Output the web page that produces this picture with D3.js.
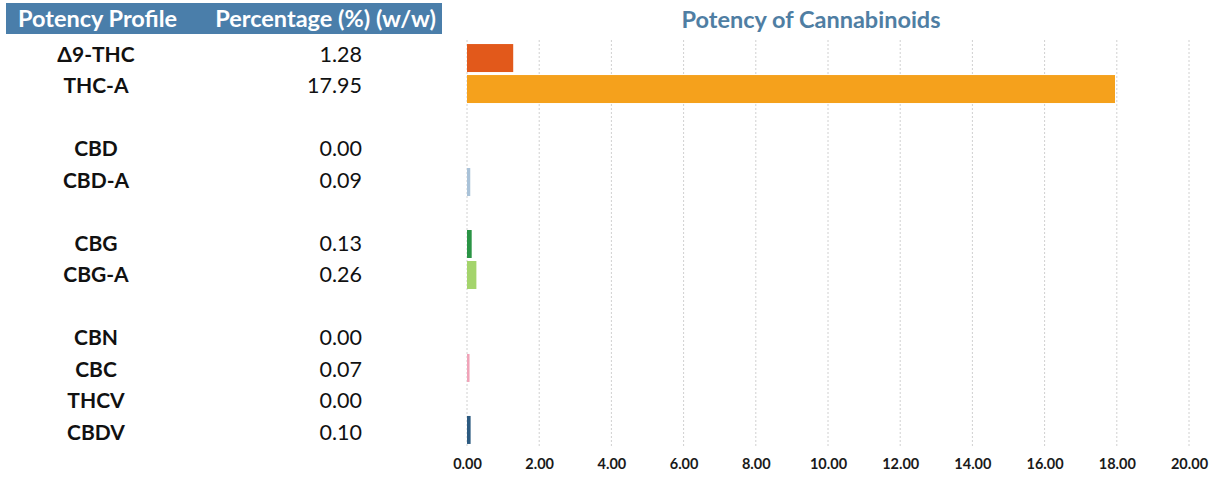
<!DOCTYPE html>
<html>
<head>
<meta charset="utf-8">
<script src="https://cdn.jsdelivr.net/npm/d3@7"></script>
<style>
  html, body { margin: 0; padding: 0; background: #fff; }
  svg { display: block; }
  text { font-family: Lato, "Open Sans", "Noto Sans", sans-serif; }
</style>
</head>
<body>
<svg id="chart" width="1212" height="478"></svg>
<script>
// ---- data ----
const categories = ["Δ9-THC", "THC-A", "CBD", "CBD-A", "CBG", "CBG-A", "CBN", "CBC", "THCV", "CBDV"];
const values     = [1.28, 17.95, 0.00, 0.09, 0.13, 0.26, 0.00, 0.07, 0.00, 0.10];
const colors     = ["#e2591b", "#f5a11c", "#9ab4cc", "#a9c2d8", "#2a9445", "#a4d46c", "#888888", "#f0a3b8", "#888888", "#2c5a80"];
const spacerAfter = ["THC-A", "CBD-A", "CBG-A"];   // blank rows between groups
const xTicks     = [0, 2, 4, 6, 8, 10, 12, 14, 16, 18, 20];
const headerLabels = ["Potency Profile", "Percentage (%) (w/w)"];
const chartTitle = "Potency of Cannabinoids";

// ---- row domain with spacer rows ----
const rowKeys = [];
categories.forEach((c, i) => {
  rowKeys.push(c);
  if (spacerAfter.includes(c)) rowKeys.push("__gap" + i);
});

const svg = d3.select("#chart");
const fmt = d3.format(".2f");

// ---- table (left) ----
const yTable = d3.scaleBand().domain(rowKeys).range([38.25, 447.75]).padding(0);

svg.append("rect")
  .attr("x", 6).attr("y", 3).attr("width", 436).attr("height", 31)
  .attr("fill", "#4a7eaa");

svg.append("text").attr("x", 18).attr("y", 27)
  .attr("fill", "#fff").attr("font-weight", 700).attr("font-size", 23.5)
  .text(headerLabels[0]);
svg.append("text").attr("x", 436).attr("y", 27)
  .attr("text-anchor", "end")
  .attr("fill", "#fff").attr("font-weight", 700).attr("font-size", 23.5)
  .text(headerLabels[1]);

const rows = svg.append("g").selectAll("g.row")
  .data(categories.map((c, i) => ({ name: c, value: values[i], color: colors[i] })))
  .join("g").attr("class", "row");

rows.append("text")
  .attr("x", 96)
  .attr("y", d => yTable(d.name) + yTable.bandwidth() / 2)
  .attr("dy", "0.36em")
  .attr("text-anchor", "middle")
  .attr("font-weight", 700).attr("font-size", 21).attr("fill", "#111")
  .text(d => d.name);

rows.append("text")
  .attr("x", 362)
  .attr("y", d => yTable(d.name) + yTable.bandwidth() / 2)
  .attr("dy", "0.36em")
  .attr("text-anchor", "end")
  .attr("font-size", 21.5).attr("fill", "#111")
  .text(d => fmt(d.value));

// ---- chart (right) ----
const x = d3.scaleLinear().domain([0, 20]).range([467, 1189]);
const yChart = d3.scaleBand().domain(rowKeys).range([42.5, 445.5]).paddingInner(0.097).paddingOuter(0.05);

svg.append("text")
  .attr("x", 811).attr("y", 28)
  .attr("text-anchor", "middle")
  .attr("font-weight", 700).attr("font-size", 23.5).attr("fill", "#4f7ea3")
  .text(chartTitle);

// gridlines
svg.append("g").selectAll("line")
  .data(xTicks)
  .join("line")
  .attr("x1", d => x(d)).attr("x2", d => x(d))
  .attr("y1", 40).attr("y2", 448)
  .attr("stroke", "#d0d0d0").attr("stroke-width", 1)
  .attr("stroke-dasharray", "2,2");

// axis labels
const axis = d3.axisBottom(x).tickValues(xTicks).tickFormat(fmt).tickSize(0).tickPadding(0);
const gAxis = svg.append("g").attr("transform", "translate(0,459)").call(axis);
gAxis.select(".domain").remove();
gAxis.selectAll("text")
  .attr("font-family", "Lato, 'Open Sans', sans-serif")
  .attr("font-weight", 700).attr("font-size", 14.5).attr("fill", "#1a1a1a");

// bars
svg.append("g").selectAll("rect")
  .data(categories.map((c, i) => ({ name: c, value: values[i], color: colors[i] })).filter(d => d.value > 0))
  .join("rect")
  .attr("x", x(0))
  .attr("y", d => yChart(d.name))
  .attr("width", d => Math.max(2.5, x(d.value) - x(0)))
  .attr("height", yChart.bandwidth())
  .attr("fill", d => d.color);
</script>
</body>
</html>
